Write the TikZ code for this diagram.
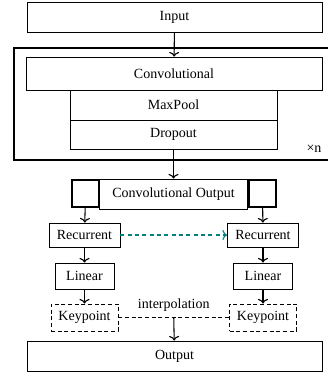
\documentclass[tikz,border=0pt]{standalone}
\usepackage{fontspec}
\setmainfont{Liberation Serif}
\usetikzlibrary{arrows.meta}

\tikzset{
  block/.style={draw, line width=0.6pt, inner sep=0pt, font=\fontsize{10.5}{12}\selectfont},
  keybox/.style={block, dash pattern=on 3pt off 2pt},
  stack/.style={draw, line width=1.5pt, minimum size=20.6pt, inner sep=0pt},
  flow/.style={-{To[length=3.5pt,width=7.5pt]}, line width=0.8pt},
}

\begin{document}
\begin{tikzpicture}[x=0.75pt,y=-0.75pt]
\useasboundingbox (0,0) rectangle (328,373);

\node[block, minimum width=221.25pt, minimum height=22.5pt] (input) at (174.5,17) {Input};

\draw[line width=1.5pt] (328,48.5) -- (14,48.5) -- (14,160.5) -- (328,160.5);
\node[block, minimum width=222pt, minimum height=24.75pt] (conv) at (174,73.5) {Convolutional};
\node[block, minimum width=155.25pt, minimum height=22.5pt] (pool) at (173.5,105) {MaxPool};
\node[block, minimum width=155.25pt, minimum height=21.75pt] (drop) at (173.5,134.5) {Dropout};
\node[font=\fontsize{10.5}{12}\selectfont] (times) at (314,149) {×n};

\node[block, minimum width=111pt, minimum height=22.5pt] (cout) at (173.5,194) {Convolutional Output};
\node[stack] (sql) at (85.5,193.5) {};
\node[stack] (sqr) at (262.5,193.5) {};

\node[block, minimum width=53.25pt, minimum height=18pt] (rl) at (84.5,235) {Recurrent};
\node[block, minimum width=53.25pt, minimum height=18pt] (rr) at (263,235) {Recurrent};
\node[block, minimum width=44.25pt, minimum height=19.5pt] (ll) at (84.5,276) {Linear};
\node[block, minimum width=44.25pt, minimum height=19.5pt] (lr) at (263,276) {Linear};
\node[keybox, minimum width=50.25pt, minimum height=20.25pt] (kl) at (84.5,317.5) {Keypoint};
\node[keybox, minimum width=50.25pt, minimum height=20.25pt] (kr) at (263,317.5) {Keypoint};

\node[block, minimum width=221.25pt, minimum height=22.5pt] (out) at (174.5,356) {Output};

\draw[flow] (input) -- (conv);
\draw[flow] (drop) -- (cout);
\draw[flow] (sql) -- (rl);
\draw[flow] (sqr) -- (rr);
\draw[flow, teal, dash pattern=on 3pt off 2.5pt] (rl) -- (rr);
\draw[flow] (rl) -- (ll);
\draw[flow] (rr) -- (lr);
\draw[flow] (ll) -- (kl);
\draw[flow] (lr) -- (kr);
\draw[line width=0.8pt, dash pattern=on 3pt off 2pt] (kl) -- node[above=1pt, font=\fontsize{10.5}{12}\selectfont] (interp) {interpolation} coordinate (im) (kr);
\draw[flow] (im) -- (out);

\end{tikzpicture}
\end{document}
